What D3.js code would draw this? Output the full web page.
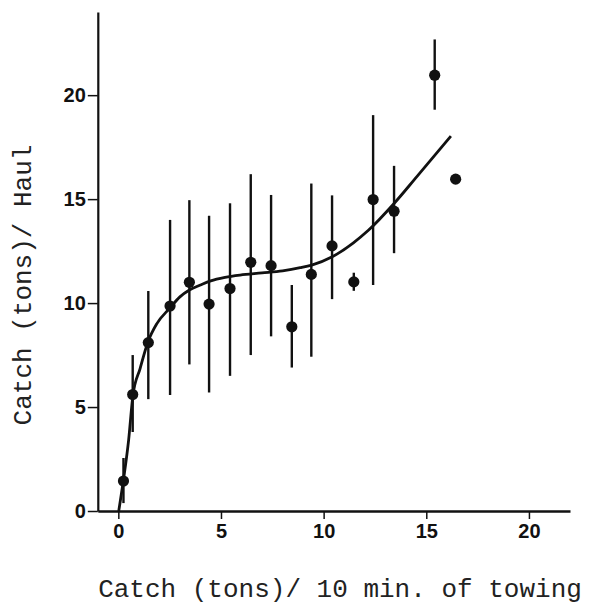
<!DOCTYPE html>
<html>
<head>
<meta charset="utf-8">
<script src="https://cdn.jsdelivr.net/npm/d3@7"></script>
<style>
  html, body { margin: 0; padding: 0; background: #fff; }
  .tick text { font-family: "Liberation Sans", Arial, sans-serif; font-weight: bold; font-size: 20px; fill: #111; }
  .axis-title { font-family: "Liberation Mono", "DejaVu Sans Mono", monospace; font-size: 26px; fill: #222; }
</style>
</head>
<body>
<div id="chart"></div>
<script>
// catch per 10 min of towing vs catch per haul (bin means with range bars)
var towX   = [0.25, 0.7, 1.46, 2.52, 3.46, 4.42, 5.44, 6.45, 7.44, 8.45, 9.4, 10.41, 11.47, 12.41, 13.43, 15.41, 16.43];
var haulY  = [1.44, 5.6, 8.1, 9.86, 11.0, 9.95, 10.7, 11.96, 11.8, 8.86, 11.38, 12.75, 11.02, 14.98, 14.42, 20.96, 15.96];
var barLo  = [0.38, 3.8, 5.38, 5.58, 7.05, 5.7, 6.5, 7.5, 8.4, 6.9, 7.42, 10.19, 10.59, 10.87, 12.4, 19.3, null];
var barHi  = [2.55, 7.5, 10.58, 14.0, 14.95, 14.2, 14.8, 16.2, 15.2, 10.87, 15.75, 15.18, 11.46, 19.04, 16.6, 22.68, null];

// fitted curve
var fitX = [0.02, 0.25, 0.5, 0.71, 1.06, 1.45, 1.87, 2.5, 3.0, 3.46, 4.0, 4.5, 5.2, 5.93, 7.0, 8.0, 8.86, 9.42, 10.42, 11.45, 12.18, 13.43, 14.53, 16.2];
var fitY = [0.0, 1.5, 3.4, 5.55, 6.85, 8.15, 9.0, 9.75, 10.3, 10.63, 10.87, 11.07, 11.24, 11.35, 11.45, 11.55, 11.7, 11.83, 12.23, 12.9, 13.5, 14.79, 16.07, 18.03];

var tickVals = [0, 5, 10, 15, 20];

var width = 593, height = 606;

var svg = d3.select("#chart").append("svg")
	.attr("width", width)
	.attr("height", height);

var x = d3.scaleLinear().domain([-1, 22]).range([97.8, 570]);
var y = d3.scaleLinear().domain([0, 24]).range([511, 12]);

// axes
var xAxis = svg.append("g")
	.attr("transform", "translate(0," + y(0) + ")")
	.call(d3.axisBottom(x).tickValues(tickVals).tickSize(8).tickSizeOuter(0).tickPadding(5));
xAxis.select(".domain").attr("stroke", "#111").attr("stroke-width", 2.5);
xAxis.selectAll(".tick line").attr("stroke", "#111").attr("stroke-width", 1.5);

var yAxis = svg.append("g")
	.attr("transform", "translate(" + x(-1) + ",0)")
	.call(d3.axisLeft(y).tickValues(tickVals).tickSize(10).tickSizeOuter(0).tickPadding(2));
yAxis.select(".domain").attr("stroke", "#111").attr("stroke-width", 2.2);
yAxis.selectAll(".tick line").attr("stroke", "#111").attr("stroke-width", 1.5);

// range bars
var pts = towX.map(function(v, i) {
	return { x: v, y: haulY[i], lo: barLo[i], hi: barHi[i] };
});

svg.append("g").selectAll("line")
	.data(pts.filter(function(d) { return d.lo !== null; }))
	.enter().append("line")
	.attr("x1", function(d) { return x(d.x); })
	.attr("x2", function(d) { return x(d.x); })
	.attr("y1", function(d) { return y(d.lo); })
	.attr("y2", function(d) { return y(d.hi); })
	.attr("stroke", "#111")
	.attr("stroke-width", 2.4);

// fitted curve
var line = d3.line()
	.x(function(d) { return x(d[0]); })
	.y(function(d) { return y(d[1]); })
	.curve(d3.curveMonotoneX);

svg.append("path")
	.datum(fitX.map(function(v, i) { return [v, fitY[i]]; }))
	.attr("d", line)
	.attr("fill", "none")
	.attr("stroke", "#111")
	.attr("stroke-width", 2.8);

// means
svg.append("g").selectAll("circle")
	.data(pts)
	.enter().append("circle")
	.attr("cx", function(d) { return x(d.x); })
	.attr("cy", function(d) { return y(d.y); })
	.attr("r", 5.6)
	.attr("fill", "#111");

// axis titles
svg.append("text")
	.attr("class", "axis-title")
	.attr("x", 340)
	.attr("y", 597)
	.attr("text-anchor", "middle")
	.text("Catch (tons)/ 10 min. of towing");

svg.append("text")
	.attr("class", "axis-title")
	.attr("transform", "translate(31,285) rotate(-90)")
	.attr("text-anchor", "middle")
	.text("Catch (tons)/ Haul");
</script>
</body>
</html>
